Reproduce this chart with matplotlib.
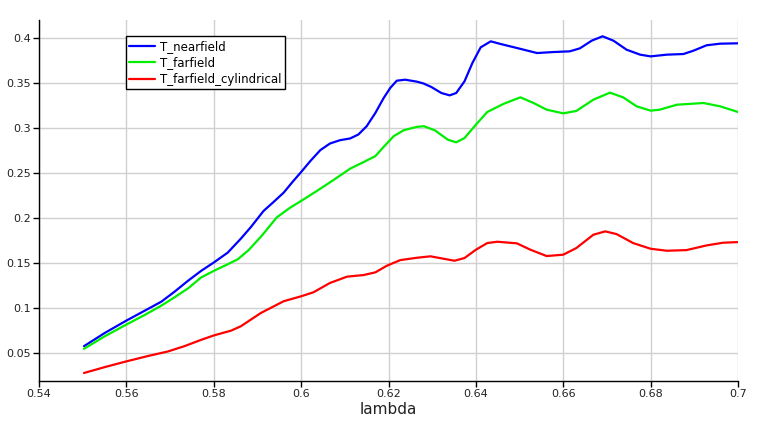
import matplotlib
matplotlib.use("Agg")
import matplotlib.pyplot as plt
from matplotlib.ticker import FuncFormatter

# ---- data ----
x_near = [0.5503, 0.5551, 0.5600, 0.5642, 0.5680, 0.5710, 0.5741, 0.5771, 0.5800, 0.5832,
          0.5862, 0.5885, 0.5914, 0.5937, 0.5960, 0.5982, 0.6000, 0.6021, 0.6044, 0.6066,
          0.6089, 0.6112, 0.6131, 0.6150, 0.6170, 0.6189, 0.6204, 0.6219, 0.6238, 0.6265,
          0.6280, 0.6298, 0.6321, 0.6340, 0.6355, 0.6374, 0.6392, 0.6411, 0.6434, 0.6457,
          0.6494, 0.6540, 0.6577, 0.6615, 0.6638, 0.6665, 0.6690, 0.6715, 0.6745, 0.6776,
          0.6800, 0.6837, 0.6875, 0.6898, 0.6928, 0.6959, 0.7000]
t_near = [0.0577, 0.0725, 0.0861, 0.0971, 0.1071, 0.1181, 0.1303, 0.1413, 0.1506, 0.1616,
          0.1771, 0.1900, 0.2079, 0.2179, 0.2282, 0.2411, 0.2511, 0.2633, 0.2755, 0.2828,
          0.2865, 0.2884, 0.2928, 0.3020, 0.3168, 0.3334, 0.3445, 0.3526, 0.3537, 0.3515,
          0.3495, 0.3456, 0.3389, 0.3363, 0.3389, 0.3519, 0.3722, 0.3896, 0.3963, 0.3933,
          0.3889, 0.3833, 0.3844, 0.3852, 0.3885, 0.3970, 0.4019, 0.3970, 0.3870, 0.3815,
          0.3796, 0.3815, 0.3822, 0.3859, 0.3919, 0.3937, 0.3941]

x_far = [0.5503, 0.5551, 0.5600, 0.5642, 0.5680, 0.5710, 0.5741, 0.5771, 0.5800, 0.5832,
         0.5855, 0.5880, 0.5911, 0.5944, 0.5975, 0.6000, 0.6036, 0.6074, 0.6112, 0.6143,
         0.6170, 0.6189, 0.6212, 0.6235, 0.6265, 0.6281, 0.6306, 0.6336, 0.6355, 0.6374,
         0.6400, 0.6426, 0.6464, 0.6502, 0.6532, 0.6562, 0.6600, 0.6630, 0.6669, 0.6707,
         0.6737, 0.6768, 0.6800, 0.6821, 0.6860, 0.6921, 0.6959, 0.7000]
t_far = [0.0548, 0.0688, 0.0817, 0.0924, 0.1027, 0.1119, 0.1218, 0.1340, 0.1413, 0.1487,
         0.1542, 0.1645, 0.1810, 0.2006, 0.2116, 0.2190, 0.2301, 0.2422, 0.2548, 0.2622,
         0.2688, 0.2791, 0.2910, 0.2976, 0.3013, 0.3020, 0.2975, 0.2870, 0.2841, 0.2889,
         0.3037, 0.3178, 0.3270, 0.3341, 0.3278, 0.3204, 0.3163, 0.3190, 0.3315, 0.3393,
         0.3341, 0.3241, 0.3193, 0.3204, 0.3259, 0.3278, 0.3241, 0.3178]

x_cyl = [0.5503, 0.5551, 0.5600, 0.5649, 0.5695, 0.5733, 0.5771, 0.5800, 0.5840, 0.5862,
         0.5885, 0.5908, 0.5960, 0.6000, 0.6028, 0.6066, 0.6105, 0.6143, 0.6170, 0.6196,
         0.6227, 0.6265, 0.6296, 0.6351, 0.6374, 0.6400, 0.6426, 0.6449, 0.6494, 0.6525,
         0.6562, 0.6600, 0.6630, 0.6669, 0.6696, 0.6722, 0.6760, 0.6800, 0.6837, 0.6882,
         0.6928, 0.6966, 0.7000]
t_cyl = [0.0279, 0.0345, 0.0408, 0.0467, 0.0518, 0.0577, 0.0647, 0.0696, 0.0750, 0.0798,
         0.0872, 0.0946, 0.1076, 0.1131, 0.1175, 0.1279, 0.1349, 0.1367, 0.1397, 0.1470,
         0.1533, 0.1559, 0.1575, 0.1526, 0.1556, 0.1648, 0.1722, 0.1737, 0.1719, 0.1648,
         0.1578, 0.1593, 0.1667, 0.1815, 0.1852, 0.1822, 0.1722, 0.1659, 0.1637, 0.1644,
         0.1696, 0.1726, 0.1733]

series_names = ["T_nearfield", "T_farfield", "T_farfield_cylindrical"]
x_ticks = [0.54, 0.56, 0.58, 0.60, 0.62, 0.64, 0.66, 0.68, 0.70]
y_ticks = [0.05, 0.10, 0.15, 0.20, 0.25, 0.30, 0.35, 0.40]
x_label = "lambda"

# ---- plot ----
plt.rcParams['font.family'] = ['DejaVu Sans']
fig = plt.figure(figsize=(7.58, 4.24), dpi=100)
ax = fig.add_axes([39/758, 1-381/424, (738-39)/758, (381-20)/424])

kw = dict(lw=1.6, solid_joinstyle='round', solid_capstyle='round')
ax.plot(x_near, t_near, color="#0000ff", label=series_names[0], **kw)
ax.plot(x_far, t_far, color="#00ee00", label=series_names[1], **kw)
ax.plot(x_cyl, t_cyl, color="#ff0000", label=series_names[2], **kw)

ax.set_xlim(0.54, 0.70)
ax.set_ylim(0.019, 0.42)
ax.set_xticks(x_ticks)
ax.set_yticks(y_ticks)
fmt = FuncFormatter(lambda v, p: ("%g" % round(v, 4)))
ax.xaxis.set_major_formatter(fmt)
ax.yaxis.set_major_formatter(fmt)
ax.tick_params(axis='both', labelsize=8, length=4, width=1, color='black',
               direction='out', pad=2, labelcolor='#222222')
ax.grid(True, color='#d0d0d0', lw=1)
ax.set_axisbelow(True)
for s in ['top', 'right']:
    ax.spines[s].set_visible(False)
for s in ['left', 'bottom']:
    ax.spines[s].set_color('black')
    ax.spines[s].set_linewidth(1)
ax.set_xlabel(x_label, fontsize=11, labelpad=2, color='#222222')

leg = ax.legend(loc='upper left', bbox_to_anchor=(0.124, 0.955), fontsize=8.5,
                fancybox=False, framealpha=1, edgecolor='black', handlelength=2.2,
                handletextpad=0.4, borderpad=0.3, labelspacing=0.3, borderaxespad=0)
leg.get_frame().set_linewidth(1)

fig.savefig("out.png", dpi=100)
